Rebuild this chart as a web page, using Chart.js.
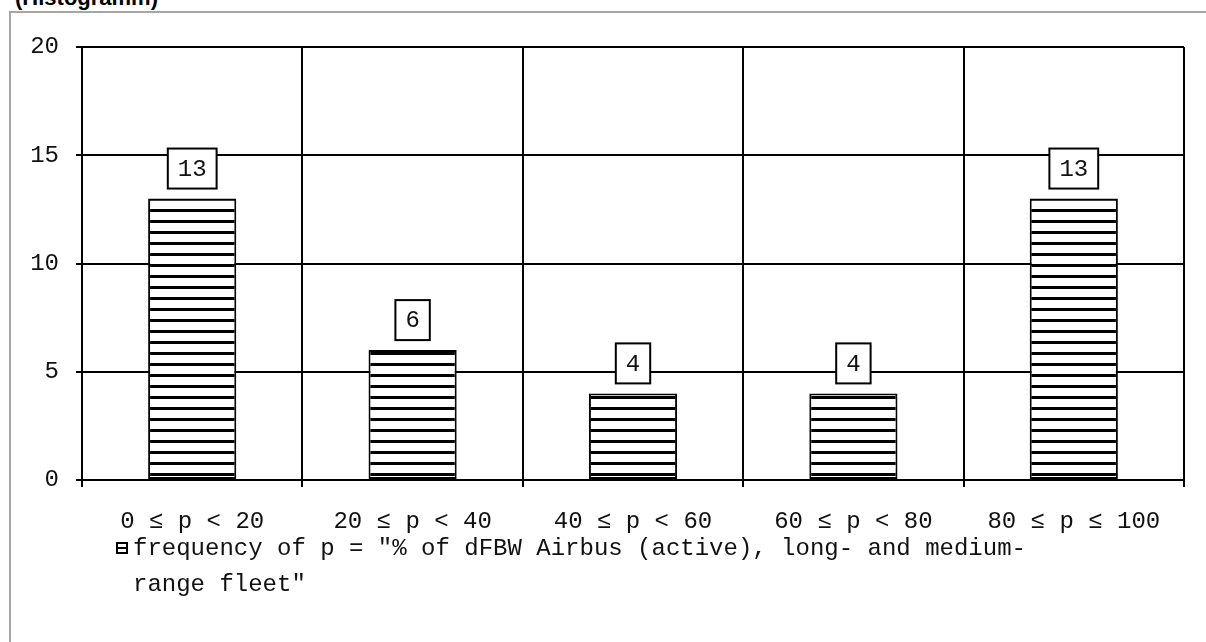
<!DOCTYPE html>
<html>
<head>
<meta charset="utf-8">
<script src="https://cdn.jsdelivr.net/npm/chart.js@4/dist/chart.umd.min.js"></script>
<style>
  html, body { margin: 0; padding: 0; background: #fff; overflow: hidden; }
  #wrap { position: relative; width: 1206px; height: 642px; overflow: hidden; }
  #frame { position: absolute; left: 9px; top: 11px; width: 1400px; height: 800px;
           border-left: 2px solid #a6a6a6; border-top: 2px solid #a6a6a6; }
  #title { position: absolute; left: 15px; top: -15px; white-space: nowrap;
           font: bold 22px "Liberation Sans", Arial, sans-serif; color: #000; }
  #chart { position: absolute; left: 0; top: 0; }
  #legend { position: absolute; left: 113px; top: 531px; white-space: nowrap;
            font: 24px "Liberation Mono", monospace; line-height: 36px; color: #111; }
  #legend .icon { position: absolute; left: 3px; top: 11px; width: 8px; height: 8px;
                  border: 2px solid #000; background: #fff; }
  #legend .icon::after { content: ''; position: absolute; left: 0; right: 0; top: 3px; height: 2px; background: #000; }
  #legend .text { margin-left: 20px; }
</style>
</head>
<body>
<div id="wrap">
  <div id="frame"></div>
  <div id="title">(Histogramm)</div>
  <canvas id="chart" width="1206" height="642"></canvas>
  <div id="legend"><span class="icon"></span><div class="text">frequency of p = "% of dFBW Airbus (active), long- and medium-<br>range fleet"</div></div>
</div>
<script>
const categories = ['0 ≤ p < 20', '20 ≤ p < 40', '40 ≤ p < 60', '60 ≤ p < 80', '80 ≤ p ≤ 100']
const frequencies = [13, 6, 4, 4, 13]
const yTicks = [0, 5, 10, 15, 20]

const monoFont = { family: '"Liberation Mono", "Courier New", monospace', size: 24 }

const canvas = document.getElementById('chart')
const ctx = canvas.getContext('2d')

// horizontal stripe fill, 11px period, anchored to the canvas
function stripePattern() {
  const tile = document.createElement('canvas')
  tile.width = 8
  tile.height = 11
  const t = tile.getContext('2d')
  t.fillStyle = '#fff'
  t.fillRect(0, 0, 8, 11)
  t.fillStyle = '#000'
  t.fillRect(0, 0, 8, 3)
  return ctx.createPattern(tile, 'repeat')
}

// boxed value labels above the bars
const boxLabels = {
  id: 'boxLabels',
  afterDatasetsDraw(chart) {
    const c = chart.ctx
    const meta = chart.getDatasetMeta(0)
    c.save()
    c.font = `${monoFont.size}px ${monoFont.family}`
    c.textAlign = 'center'
    c.textBaseline = 'middle'
    meta.data.forEach((bar, i) => {
      const txt = String(chart.data.datasets[0].data[i])
      const w = c.measureText(txt).width + 20
      const h = 40
      const bottom = bar.y - 10
      c.fillStyle = '#fff'
      c.fillRect(bar.x - w / 2, bottom - h, w, h)
      c.lineWidth = 2
      c.strokeStyle = '#000'
      c.strokeRect(bar.x - w / 2, bottom - h, w, h)
      c.fillStyle = '#111'
      c.fillText(txt, bar.x, bottom - h / 2 + 1)
    })
    c.restore()
  },
}

new Chart(ctx, {
  type: 'bar',
  data: {
    labels: categories,
    datasets: [
      {
        label: 'frequency',
        data: frequencies,
        backgroundColor: stripePattern(),
        borderColor: '#000',
        borderWidth: 2,
        borderSkipped: false,
        categoryPercentage: 1,
        barPercentage: 0.4,
      },
    ],
  },
  plugins: [boxLabels],
  options: {
    responsive: false,
    animation: false,
    devicePixelRatio: 1,
    layout: { padding: { top: 47, right: 22, left: 0, bottom: 0 } },
    plugins: {
      legend: { display: false },
      tooltip: { enabled: false },
    },
    scales: {
      x: {
        grid: { color: '#000', lineWidth: 2, tickLength: 7, offset: true },
        border: { color: '#000', width: 2 },
        ticks: { color: '#111', font: monoFont, padding: 20, maxRotation: 0, autoSkip: false },
        afterFit(scale) { scale.height = 162 },
      },
      y: {
        min: 0,
        max: 20,
        grid: { color: '#000', lineWidth: 2, tickLength: 6 },
        border: { color: '#000', width: 2 },
        ticks: { color: '#111', font: monoFont, padding: 17 },
        afterBuildTicks(scale) { scale.ticks = yTicks.map(v => ({ value: v })) },
        afterFit(scale) { scale.width = 82 },
      },
    },
  },
})
</script>
</body>
</html>
